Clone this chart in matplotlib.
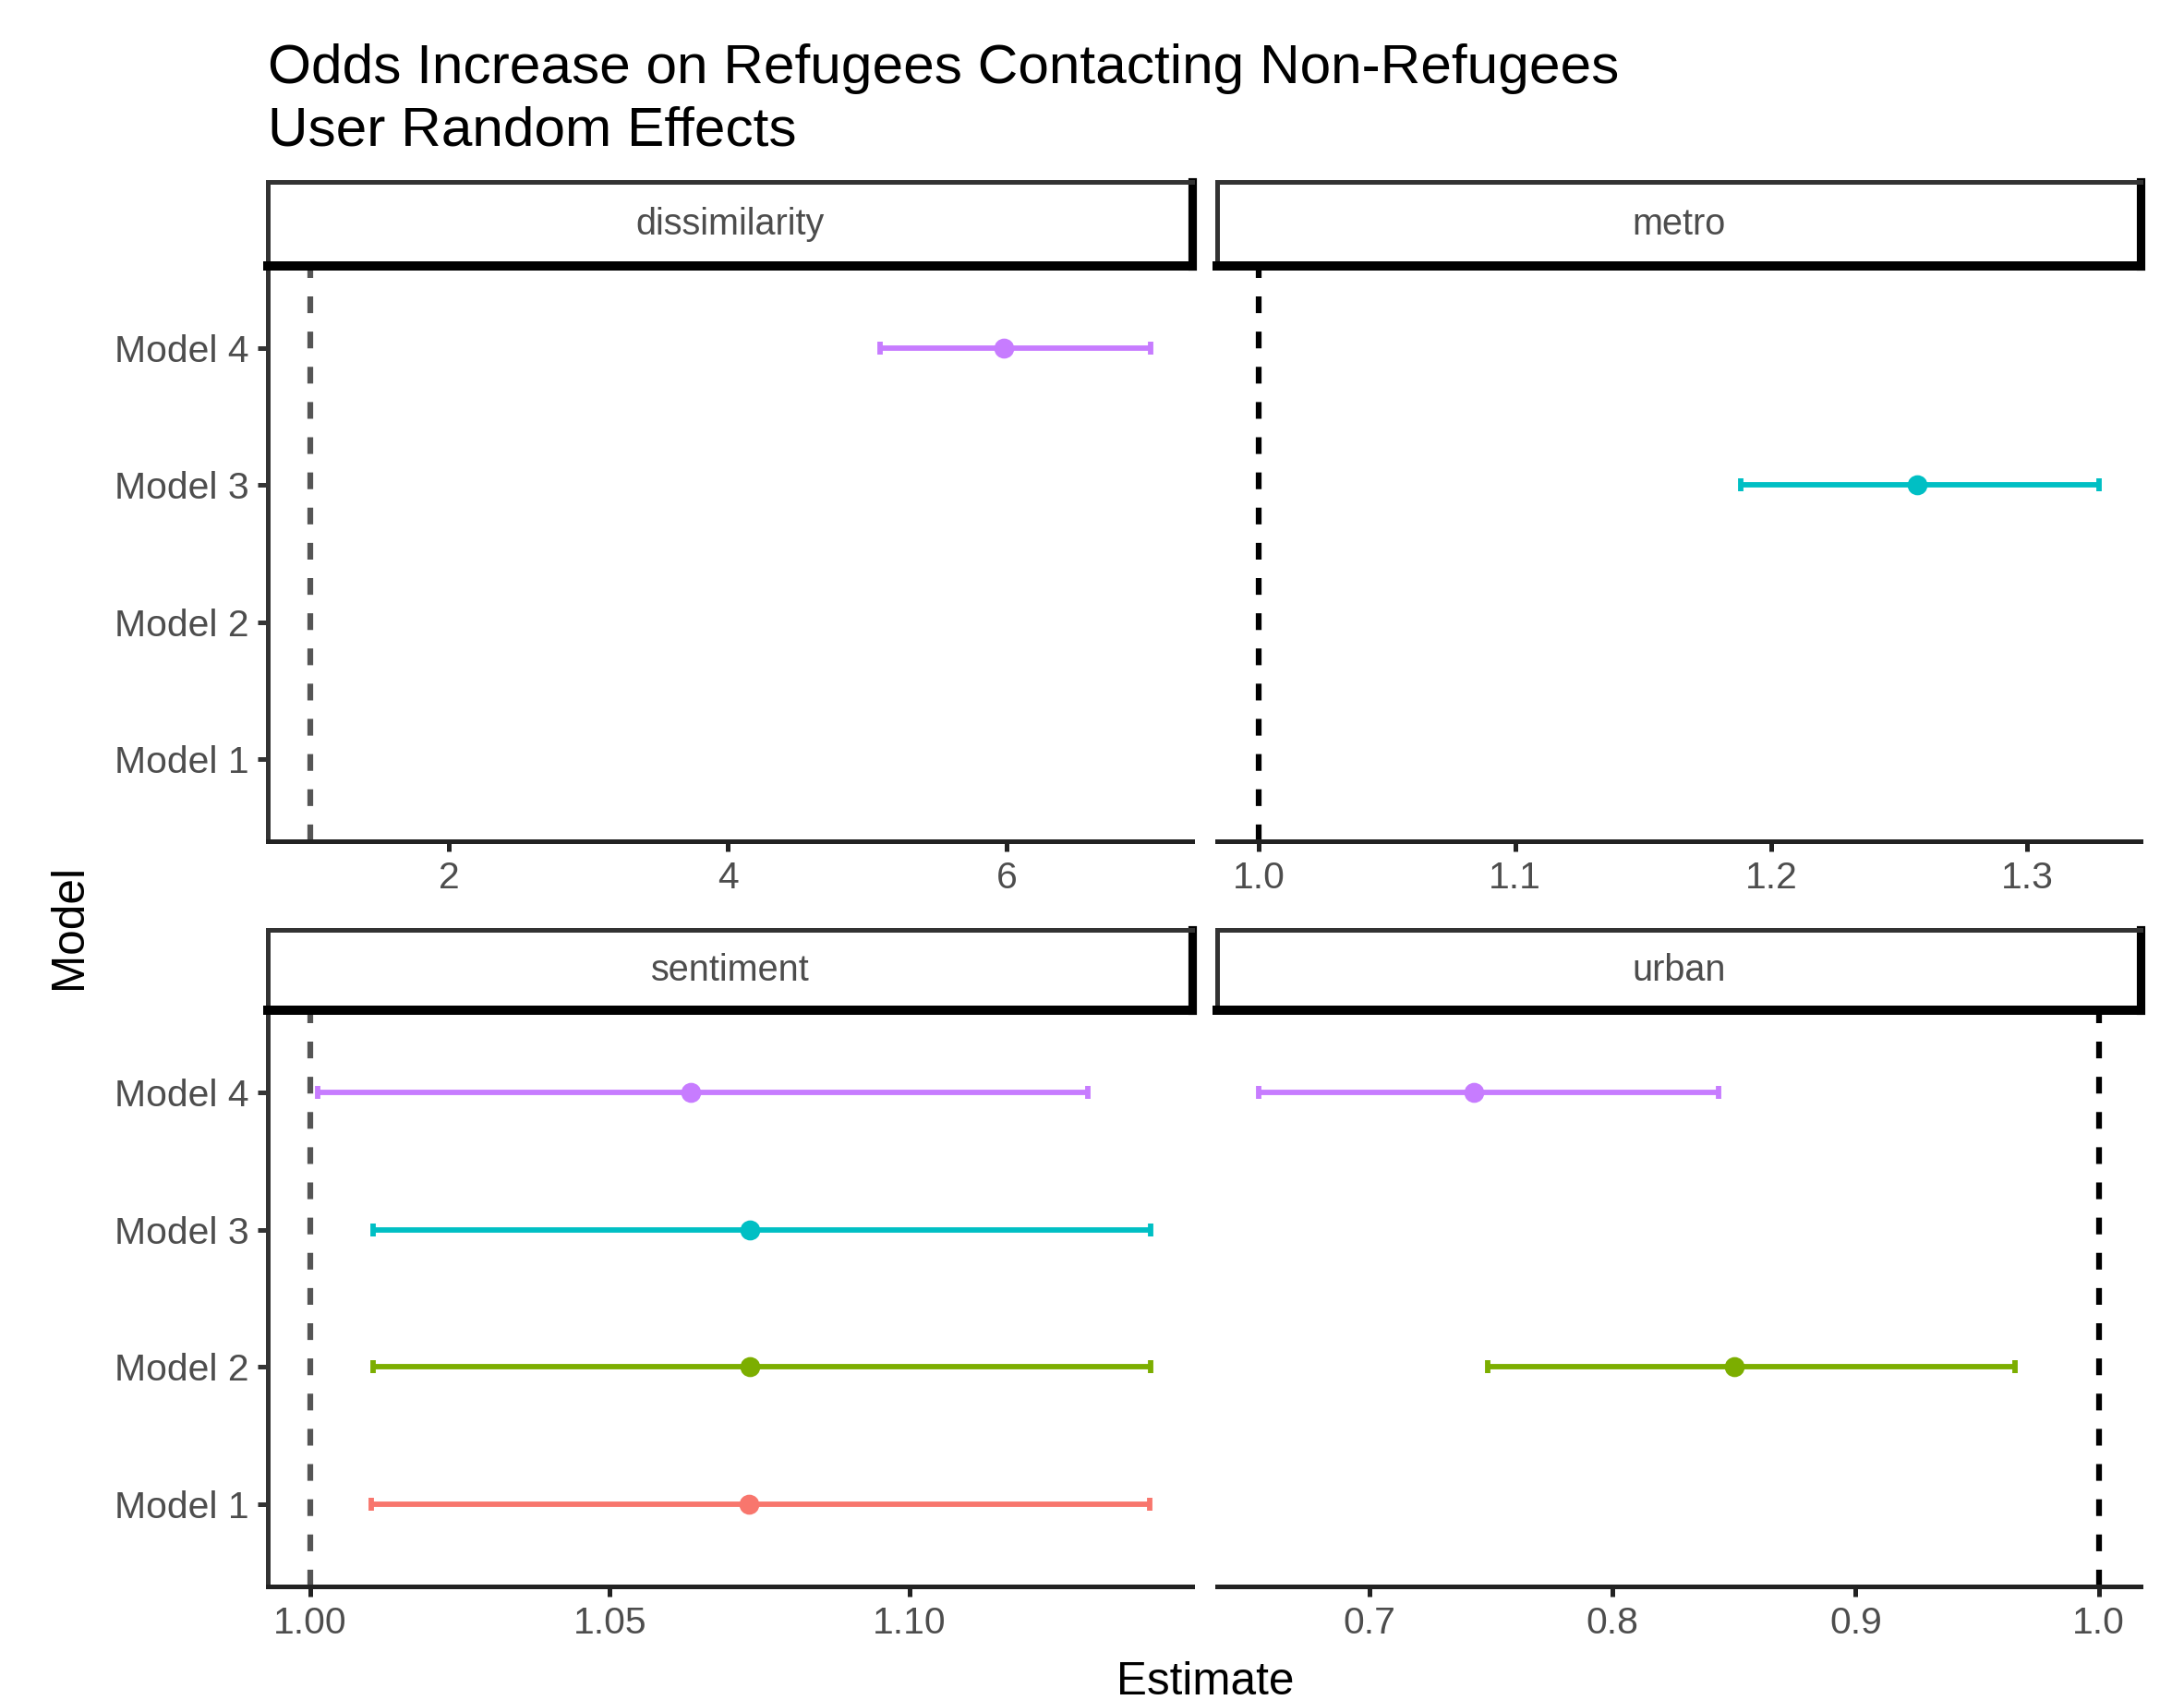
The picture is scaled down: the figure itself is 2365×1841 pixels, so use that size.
import numpy as np
import matplotlib
matplotlib.use('Agg')
from matplotlib import pyplot as plt

plt.rcParams['font.family'] = ['Liberation Sans', 'DejaVu Sans']

# data (odds ratios with CI)
models = ['Model 1', 'Model 2', 'Model 3', 'Model 4']
model_colors = {'Model 1': '#F8766D', 'Model 2': '#7CAE00',
                'Model 3': '#00BFC4', 'Model 4': '#C77CFF'}
facets = ['dissimilarity', 'metro', 'sentiment', 'urban']

dissim_model = ['Model 4']
dissim_est = [5.98]
dissim_lo = [5.09]
dissim_hi = [7.03]

metro_model = ['Model 3']
metro_est = [1.257]
metro_lo = [1.188]
metro_hi = [1.328]

sentiment_model = ['Model 1', 'Model 2', 'Model 3', 'Model 4']
sentiment_est = [1.0732, 1.0733, 1.0733, 1.0635]
sentiment_lo = [1.0103, 1.0106, 1.0106, 1.0013]
sentiment_hi = [1.1400, 1.1401, 1.1401, 1.1297]

urban_model = ['Model 2', 'Model 4']
urban_est = [0.850, 0.743]
urban_lo = [0.7486, 0.6545]
urban_hi = [0.9655, 0.8436]

dissim_ticks = [2, 4, 6]
dissim_labels = ['2', '4', '6']
metro_ticks = [1.0, 1.1, 1.2, 1.3]
metro_labels = ['1.0', '1.1', '1.2', '1.3']
sentiment_ticks = [1.00, 1.05, 1.10]
sentiment_labels = ['1.00', '1.05', '1.10']
urban_ticks = [0.7, 0.8, 0.9, 1.0]
urban_labels = ['0.7', '0.8', '0.9', '1.0']

ref_line = 1.0

panel_data = {
    'dissimilarity': (dissim_model, dissim_est, dissim_lo, dissim_hi, dissim_ticks, dissim_labels),
    'metro': (metro_model, metro_est, metro_lo, metro_hi, metro_ticks, metro_labels),
    'sentiment': (sentiment_model, sentiment_est, sentiment_lo, sentiment_hi, sentiment_ticks, sentiment_labels),
    'urban': (urban_model, urban_est, urban_lo, urban_hi, urban_ticks, urban_labels),
}

W, H = 2365, 1841
fig = plt.figure(figsize=(W / 300, H / 300), dpi=300)


def box(x0, y0, x1, y1):
    # pixel box (from top-left) -> figure fraction
    return [x0 / W, 1 - y1 / H, (x1 - x0) / W, (y1 - y0) / H]


cols = [(290, 1291), (1318, 2318)]
rows = [(197, 288, 911), (1007, 1094, 1718)]
vline_col = {'dissimilarity': '#555555', 'sentiment': '#555555',
             'metro': 'black', 'urban': 'black'}

for k, name in enumerate(facets):
    r, c = divmod(k, 2)
    x0, x1 = cols[c]
    s0, p0, p1 = rows[r]
    m, est, lo, hi, ticks, labels = panel_data[name]

    ax = fig.add_axes(box(x0, p0, x1, p1))
    ypos = [models.index(mm) + 1 for mm in m]
    for y, e, l, h, mm in zip(ypos, est, lo, hi, m):
        ax.errorbar([e], [y], xerr=[[e - l], [h - e]], fmt='o',
                    color=model_colors[mm], ms=4.2, elinewidth=1.4,
                    capsize=1.6, capthick=1.4, zorder=3)
    ax.axvline(ref_line, color=vline_col[name], lw=1.5,
               linestyle=(0, (2.9, 3.2)), zorder=2)

    lo_all = min(min(lo), ref_line)
    hi_all = max(max(hi), ref_line)
    pad = 0.05 * (hi_all - lo_all)
    ax.set_xlim(lo_all - pad, hi_all + pad)
    ax.set_ylim(0.4, 4.6)
    ax.set_xticks(ticks)
    ax.set_xticklabels(labels)

    ax.spines['top'].set_visible(False)
    ax.spines['right'].set_visible(False)
    ax.spines['bottom'].set_linewidth(1.2)
    ax.spines['bottom'].set_color('#222222')
    ax.tick_params(axis='x', length=2.75, width=1.2, color='#222222',
                   labelsize=9.8, labelcolor='#4D4D4D', pad=2.2)
    if c == 0:
        ax.spines['left'].set_linewidth(1.2)
        ax.spines['left'].set_color('#333333')
        ax.set_yticks([1, 2, 3, 4])
        ax.set_yticklabels(models)
        ax.tick_params(axis='y', length=2.75, width=1.2, color='#333333',
                       labelsize=9.8, labelcolor='#4D4D4D', pad=2.2)
    else:
        ax.spines['left'].set_visible(False)
        ax.set_yticks([])

    # strip, drawn over the panel so its thick bottom edge shows
    sax = fig.add_axes(box(x0, s0, x1, p0))
    sax.set_zorder(5)
    sax.set_xticks([])
    sax.set_yticks([])
    sax.spines['top'].set_linewidth(1.2)
    sax.spines['left'].set_linewidth(1.2)
    sax.spines['right'].set_linewidth(2.2)
    sax.spines['bottom'].set_linewidth(2.4)
    for sp in ['top', 'left']:
        sax.spines[sp].set_color('#333333')
    for sp in ['right', 'bottom']:
        sax.spines[sp].set_color('black')
    sax.text(0.5, 0.5, name, ha='center', va='center', fontsize=9.5,
             color='#4D4D4D', transform=sax.transAxes)

fig.text(290 / W, 1 - 74 / H, 'Odds Increase on Refugees Contacting Non-Refugees',
         fontsize=14.5, ha='left', va='center')
fig.text(290 / W, 1 - 142 / H, 'User Random Effects',
         fontsize=14.5, ha='left', va='center')
fig.text(1305 / W, 1 - 1822 / H, 'Estimate', fontsize=11.9, ha='center', va='center')
fig.text(75 / W, 1 - 1003 / H, 'Model', fontsize=11.9, ha='center', va='center',
         rotation=90)

fig.savefig('out.png', dpi=300)
